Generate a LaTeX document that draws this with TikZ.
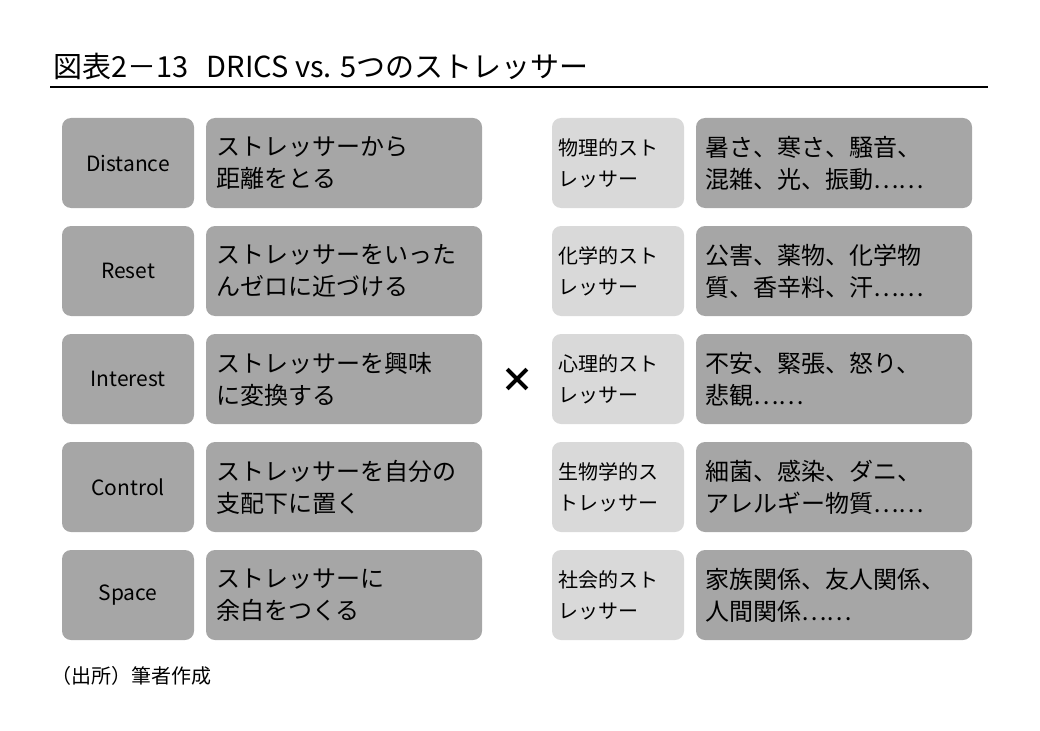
\documentclass[tikz,border=0pt]{standalone}
\usepackage{fontspec}
\setmainfont{Noto Sans CJK JP}
\begin{document}
\begin{tikzpicture}[x=1pt,y=-1pt,
 bx/.style={rounded corners=9pt,inner sep=0pt},
 lab/.style={bx,fill=black!35,minimum width=132pt,minimum height=90pt,font=\fontsize{21}{24}\selectfont},
 dsc/.style={bx,fill=black!35,minimum width=276pt,minimum height=90pt,font=\fontsize{24}{32}\selectfont,text width=256pt,align=left},
 lt/.style={bx,fill=black!15,minimum width=132pt,minimum height=90pt,font=\fontsize{20}{31}\selectfont,text width=120pt,align=left},
 rd/.style={bx,fill=black!35,minimum width=276pt,minimum height=90pt,font=\fontsize{24}{32}\selectfont,text width=258pt,align=left}]
\useasboundingbox (0,0) rectangle (1040,730);
\node[anchor=west,font=\fontsize{29}{32}\selectfont] (title) at (50,66) {図表2－13\hspace{18pt}DRICS vs. 5つのストレッサー};
\draw[line width=1.2pt] (50,87) -- (988,87);
\foreach \i/\a/\b/\c/\d in {0/Distance/{ストレッサーから\\距離をとる}/{物理的スト\\レッサー}/{暑さ、寒さ、騒音、\\混雑、光、振動……},
 1/Reset/{ストレッサーをいった\\んゼロに近づける}/{化学的スト\\レッサー}/{公害、薬物、化学物\\質、香辛料、汗……},
 2/Interest/{ストレッサーを興味\\に変換する}/{心理的スト\\レッサー}/{不安、緊張、怒り、\\悲観……},
 3/Control/{ストレッサーを自分の\\支配下に置く}/{生物学的ス\\トレッサー}/{細菌、感染、ダニ、\\アレルギー物質……},
 4/Space/{ストレッサーに\\余白をつくる}/{社会的スト\\レッサー}/{家族関係、友人関係、\\人間関係……}}{
 \node[lab] (l\i) at (128,163+108*\i) {\a};
 \node[dsc] (d\i) at (344,163+108*\i) {\b};
 \node[lt] (p\i) at (618,163+108*\i) {\c};
 \node[rd] (r\i) at (834,163+108*\i) {\d};
}
\node[font=\fontsize{34}{34}\selectfont\bfseries] (x) at (517,380) {×};
\node[anchor=west,font=\fontsize{20}{24}\selectfont] (src) at (48,676) {（出所）筆者作成};
\end{tikzpicture}
\end{document}
